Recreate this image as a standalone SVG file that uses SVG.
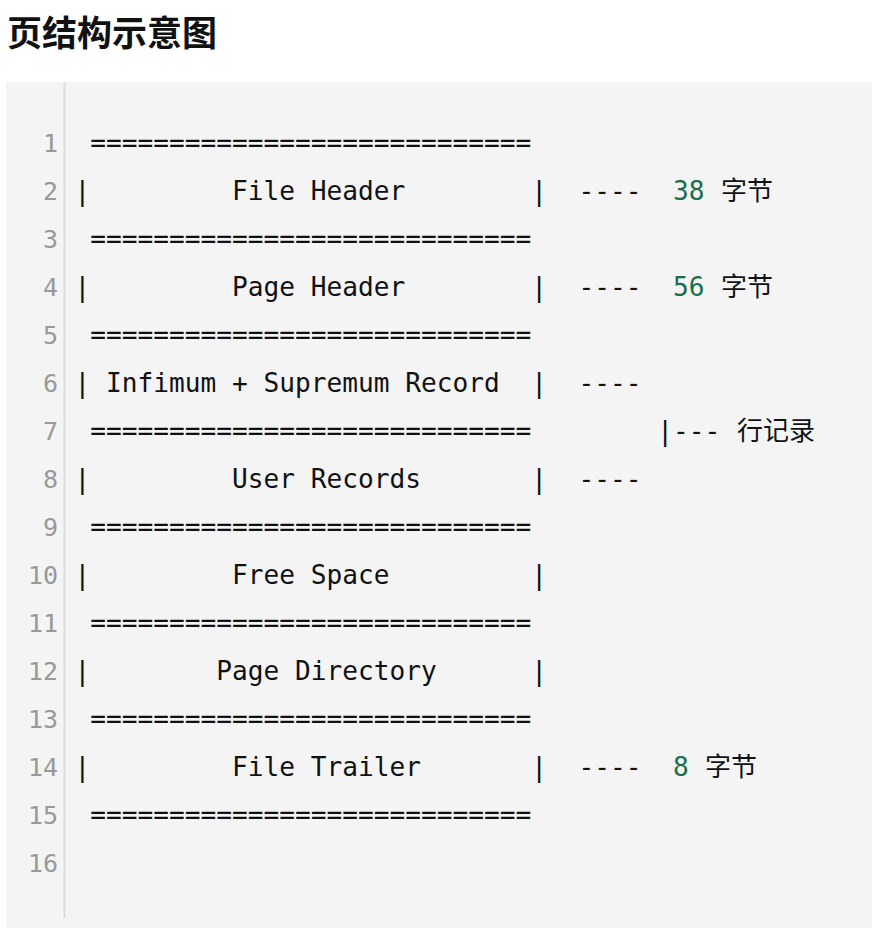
<svg xmlns="http://www.w3.org/2000/svg" width="872" height="938" viewBox="0 0 872 938">
<style>
.title{font-family:"Noto Sans CJK SC","Noto Sans",sans-serif;font-weight:bold;font-size:35px;fill:#111}
.code{font-family:"DejaVu Sans Mono","Noto Sans CJK SC",monospace;font-size:26.16px;fill:#111;white-space:pre}
.cjk{font-family:"Noto Sans CJK SC",sans-serif;font-size:26px;fill:#111}
.num{fill:#1b6e4a}
.ln{font-family:"DejaVu Sans Mono",monospace;font-size:25px;fill:#999;text-anchor:end}
</style>
<rect width="872" height="938" fill="#ffffff"/>
<text class="title" x="7" y="46">页结构示意图</text>
<rect x="6" y="82" width="866" height="846" fill="#f4f4f4"/>
<line x1="64.5" y1="82" x2="64.5" y2="918" stroke="#dcdcdc" stroke-width="2"/>
<g id="gutter">
<text class="ln" x="58" y="152">1</text>
<text class="ln" x="58" y="200">2</text>
<text class="ln" x="58" y="248">3</text>
<text class="ln" x="58" y="296">4</text>
<text class="ln" x="58" y="344">5</text>
<text class="ln" x="58" y="392">6</text>
<text class="ln" x="58" y="440">7</text>
<text class="ln" x="58" y="488">8</text>
<text class="ln" x="58" y="536">9</text>
<text class="ln" x="58" y="584">10</text>
<text class="ln" x="58" y="632">11</text>
<text class="ln" x="58" y="680">12</text>
<text class="ln" x="58" y="728">13</text>
<text class="ln" x="58" y="776">14</text>
<text class="ln" x="58" y="824">15</text>
<text class="ln" x="58" y="872">16</text>
</g>
<g id="code">
<text class="code" x="90.25" y="152">============================</text>
<g id="file-header">
<text class="code" x="74.5" y="200">|</text>
<text class="code" x="232" y="200">File Header</text>
<text class="code" x="531.25" y="200">|</text>
<text class="code" x="578.5" y="200">----</text>
<text class="code num" x="673" y="200">38</text>
<text class="cjk" x="721" y="200">字节</text>
</g>
<text class="code" x="90.25" y="248">============================</text>
<g id="page-header">
<text class="code" x="74.5" y="296">|</text>
<text class="code" x="232" y="296">Page Header</text>
<text class="code" x="531.25" y="296">|</text>
<text class="code" x="578.5" y="296">----</text>
<text class="code num" x="673" y="296">56</text>
<text class="cjk" x="721" y="296">字节</text>
</g>
<text class="code" x="90.25" y="344">============================</text>
<g id="infimum-supremum">
<text class="code" x="74.5" y="392">|</text>
<text class="code" x="106" y="392">Infimum + Supremum Record</text>
<text class="code" x="531.25" y="392">|</text>
<text class="code" x="578.5" y="392">----</text>
</g>
<text class="code" x="90.25" y="440">============================</text>
<g id="row-records">
<text class="code" x="657.25" y="440">|---</text>
<text class="cjk" x="737" y="440">行记录</text>
</g>
<g id="user-records">
<text class="code" x="74.5" y="488">|</text>
<text class="code" x="232" y="488">User Records</text>
<text class="code" x="531.25" y="488">|</text>
<text class="code" x="578.5" y="488">----</text>
</g>
<text class="code" x="90.25" y="536">============================</text>
<g id="free-space">
<text class="code" x="74.5" y="584">|</text>
<text class="code" x="232" y="584">Free Space</text>
<text class="code" x="531.25" y="584">|</text>
</g>
<text class="code" x="90.25" y="632">============================</text>
<g id="page-directory">
<text class="code" x="74.5" y="680">|</text>
<text class="code" x="216.25" y="680">Page Directory</text>
<text class="code" x="531.25" y="680">|</text>
</g>
<text class="code" x="90.25" y="728">============================</text>
<g id="file-trailer">
<text class="code" x="74.5" y="776">|</text>
<text class="code" x="232" y="776">File Trailer</text>
<text class="code" x="531.25" y="776">|</text>
<text class="code" x="578.5" y="776">----</text>
<text class="code num" x="673" y="776">8</text>
<text class="cjk" x="705" y="776">字节</text>
</g>
<text class="code" x="90.25" y="824">============================</text>
</g>
</svg>
